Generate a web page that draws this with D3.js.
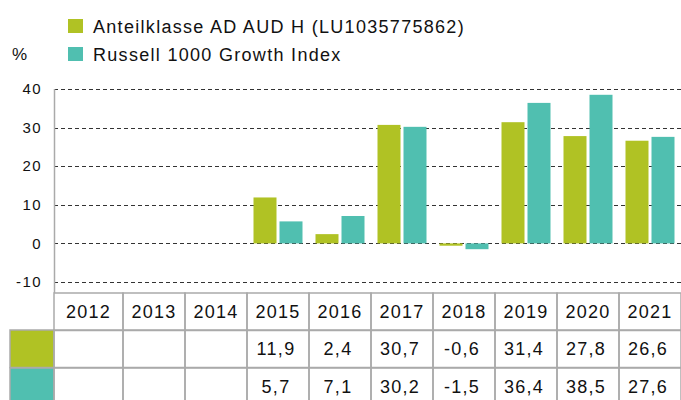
<!DOCTYPE html>
<html>
<head>
<meta charset="utf-8">
<title>Anteilklasse AD AUD H</title>
<style>
body { margin: 0; background: #fff; }
text { font-family: "Liberation Sans", Arial, sans-serif; fill: #111; }
</style>
<script src="https://d3js.org/d3.v7.min.js"></script>
</head>
<body>
<svg id="chart" width="681" height="400"></svg>
<script>
// data
const years = ["2012", "2013", "2014", "2015", "2016", "2017", "2018", "2019", "2020", "2021"];
const fundValues = [null, null, null, 11.9, 2.4, 30.7, -0.6, 31.4, 27.8, 26.6];
const indexValues = [null, null, null, 5.7, 7.1, 30.2, -1.5, 36.4, 38.5, 27.6];
const seriesNames = ["Anteilklasse AD AUD H (LU1035775862)", "Russell 1000 Growth Index"];
const yTicks = [-10, 0, 10, 20, 30, 40];

const colors = ["#b0c224", "#50bfb0"];
const series = [fundValues, indexValues];

const svg = d3.select("#chart");
const AXIS_X = 54;
const W = 681;

const x = d3.scaleBand().domain(years).range([61, 681]);
const xInner = d3.scaleBand().domain([0, 1]).range([0, x.bandwidth()])
                 .paddingInner(3 / 26).paddingOuter(0.25);
const y = d3.scaleLinear().domain([-10, 40]).range([282, 89]);

// gridlines
svg.append("g")
   .selectAll("line")
   .data(yTicks)
   .join("line")
   .attr("x1", AXIS_X)
   .attr("x2", W)
   .attr("y1", d => Math.round(y(d)) + 0.5)
   .attr("y2", d => Math.round(y(d)) + 0.5)
   .style("stroke", "#333")
   .style("stroke-width", 1.2)
   .style("stroke-dasharray", "4,3");

// y tick labels
svg.append("g")
   .selectAll("text")
   .data(yTicks)
   .join("text")
   .attr("x", 42)
   .attr("y", d => y(d))
   .attr("dy", "0.35em")
   .attr("text-anchor", "end")
   .style("font-size", "15px")
   .style("letter-spacing", "1.4px")
   .text(d => d);

svg.append("text")
   .attr("x", 12)
   .attr("y", 60)
   .style("font-size", "17px")
   .text("%");

// bars
series.forEach((vals, i) => {
    svg.append("g")
       .selectAll("rect")
       .data(years.map((yr, j) => ({ yr: yr, v: vals[j] })).filter(d => d.v !== null))
       .join("rect")
       .attr("x", d => x(d.yr) + xInner(i))
       .attr("width", xInner.bandwidth())
       .attr("y", d => y(Math.max(0, d.v)))
       .attr("height", d => Math.abs(y(d.v) - y(0)))
       .style("fill", colors[i]);
});

// y axis line
svg.append("line")
   .attr("x1", AXIS_X + 0.5).attr("x2", AXIS_X + 0.5)
   .attr("y1", y(40)).attr("y2", 293)
   .style("stroke", "#aaa")
   .style("stroke-width", 1.5);

// legend
const legend = svg.append("g");
seriesNames.forEach((name, i) => {
    legend.append("rect")
          .attr("x", 68).attr("y", 19 + i * 28)
          .attr("width", 15).attr("height", 14)
          .style("fill", colors[i]);
    legend.append("text")
          .attr("x", 93).attr("y", 33 + i * 28)
          .style("font-size", "18px")
          .style("letter-spacing", "1.3px")
          .text(name);
});

// table
const rowTop = [293, 330, 368];
const rowH = 37.5;
const table = svg.append("g");
const colLeft = d => d === years[0] ? AXIS_X : x(d);
const colRight = d => x(d) + x.bandwidth();

function cellText(cx, cy, txt) {
    table.append("text")
         .attr("x", cx)
         .attr("y", cy)
         .attr("dy", "0.35em")
         .attr("text-anchor", "middle")
         .style("font-size", "18px")
         .style("letter-spacing", "1.3px")
         .text(txt);
}

// header row
years.forEach(yr => {
    table.append("rect")
         .attr("x", colLeft(yr)).attr("y", rowTop[0])
         .attr("width", colRight(yr) - colLeft(yr)).attr("height", rowH)
         .style("fill", "none").style("stroke", "#aaa").style("stroke-width", 1.5);
    cellText((colLeft(yr) + colRight(yr)) / 2, rowTop[0] + rowH / 2, yr);
});

series.forEach((vals, i) => {
    const top = rowTop[i + 1];
    table.append("rect")
         .attr("x", 10).attr("y", top)
         .attr("width", AXIS_X - 10).attr("height", rowH)
         .style("fill", colors[i]).style("stroke", "#aaa").style("stroke-width", 1.5);
    years.forEach((yr, j) => {
        table.append("rect")
             .attr("x", colLeft(yr)).attr("y", top)
             .attr("width", colRight(yr) - colLeft(yr)).attr("height", rowH)
             .style("fill", "none").style("stroke", "#aaa").style("stroke-width", 1.5);
        if (vals[j] !== null) {
            cellText((colLeft(yr) + colRight(yr)) / 2 - 2, top + rowH / 2,
                     vals[j].toFixed(1).replace(".", ","));
        }
    });
});
</script>
</body>
</html>
